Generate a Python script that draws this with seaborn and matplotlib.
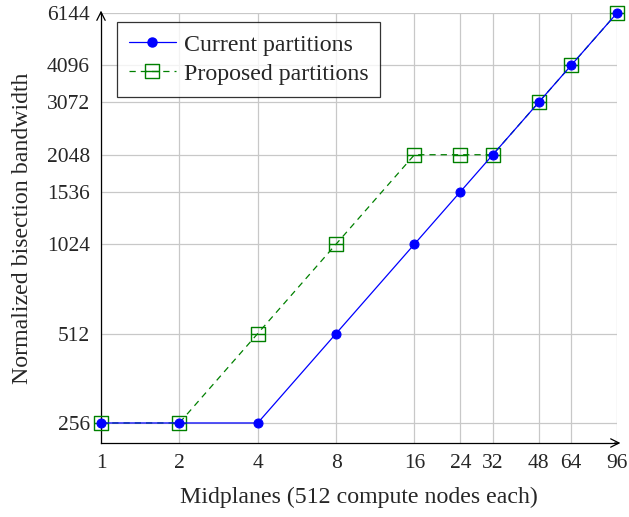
import matplotlib
matplotlib.use("Agg")
import matplotlib.pyplot as plt
import seaborn as sns
import pandas as pd
from matplotlib.lines import Line2D
from matplotlib.path import Path

midplanes = [1, 2, 4, 8, 16, 24, 32, 48, 64, 96]
current = [256, 256, 256, 512, 1024, 1536, 2048, 3072, 4096, 6144]
proposed = [256, 256, 512, 1024, 2048, 2048, 2048, 3072, 4096, 6144]
yticks = [256, 512, 1024, 1536, 2048, 3072, 4096, 6144]
labels = ["Current partitions", "Proposed partitions"]

sns.set_style("white")
plt.rcParams["font.family"] = ["Liberation Serif", "DejaVu Serif"]
plt.rcParams["font.size"] = 15

BLUE = (0, 0, 1)
GREEN = (0, 0.5, 0)
DASH = (0, (5, 4))

# boxed-minus marker
BOXMINUS = Path(
    [(-1, -1), (1, -1), (1, 1), (-1, 1), (-1, -1), (-1, 0), (1, 0)],
    [Path.MOVETO, Path.LINETO, Path.LINETO, Path.LINETO, Path.CLOSEPOLY,
     Path.MOVETO, Path.LINETO],
)

fig = plt.figure(figsize=(6.29, 5.17), dpi=100)
ax = fig.add_axes([101/629, (517-443)/517, 516/629, 430/517])

df_c = pd.DataFrame({"x": midplanes, "y": current})
df_p = pd.DataFrame({"x": midplanes, "y": proposed})

sns.lineplot(data=df_p, x="x", y="y", ax=ax, color=GREEN, lw=0.9,
             linestyle=DASH, marker=BOXMINUS, markersize=9.5,
             markerfacecolor="none", markeredgecolor=GREEN, markeredgewidth=1.0,
             zorder=3, clip_on=False)
sns.lineplot(data=df_c, x="x", y="y", ax=ax, color=BLUE, lw=0.9,
             marker="o", markersize=6.5, markeredgecolor=BLUE,
             markerfacecolor=BLUE, zorder=5, clip_on=False)

ax.set_xscale("log", base=2)
ax.set_yscale("log", base=2)
ax.set_xlim(1, 96)
ax.set_ylim(256 * 2 ** -0.224, 6144)
ax.set_xticks(midplanes)
ax.set_xticklabels([str(v) for v in midplanes])
ax.set_yticks(yticks)
ax.set_yticklabels([str(v) for v in yticks])
ax.minorticks_off()
ax.grid(True, color="#c8c8c8", lw=0.9)
ax.set_axisbelow(True)
for s in ["top", "right"]:
    ax.spines[s].set_visible(False)
for s in ["left", "bottom"]:
    ax.spines[s].set_color("black")
    ax.spines[s].set_linewidth(0.9)
ax.tick_params(axis="both", which="major", direction="out", length=4,
               width=0.8, color="#888888", labelsize=15.5, pad=4)

# axis arrows
ax.annotate("", xy=(1.012, 0), xytext=(0.99, 0), xycoords="axes fraction",
            arrowprops=dict(arrowstyle="->", color="black", lw=0.9))
ax.annotate("", xy=(0, 1.012), xytext=(0, 0.99), xycoords="axes fraction",
            arrowprops=dict(arrowstyle="->", color="black", lw=0.9))

ax.set_xlabel("Midplanes (512 compute nodes each)", fontsize=17.2, labelpad=10)
ax.set_ylabel("Normalized bisection bandwidth", fontsize=17.2, labelpad=10)

h_c = Line2D([], [], color=BLUE, lw=0.9, marker="o", markersize=6.5,
             markerfacecolor=BLUE, markeredgecolor=BLUE)
h_p = Line2D([], [], color=GREEN, lw=0.9, linestyle=DASH, marker=BOXMINUS,
             markersize=9.5, markerfacecolor="none", markeredgecolor=GREEN,
             markeredgewidth=1.0)
leg = ax.legend([h_c, h_p], labels, loc="upper left",
                bbox_to_anchor=(0.031, 0.979), fontsize=17.2, frameon=True,
                fancybox=False, shadow=False, borderpad=0.5,
                handlelength=1.95, handletextpad=0.35, labelspacing=0.3,
                borderaxespad=0)
leg.get_frame().set_edgecolor("black")
leg.get_frame().set_linewidth(0.9)

fig.savefig("out.png", dpi=100)
